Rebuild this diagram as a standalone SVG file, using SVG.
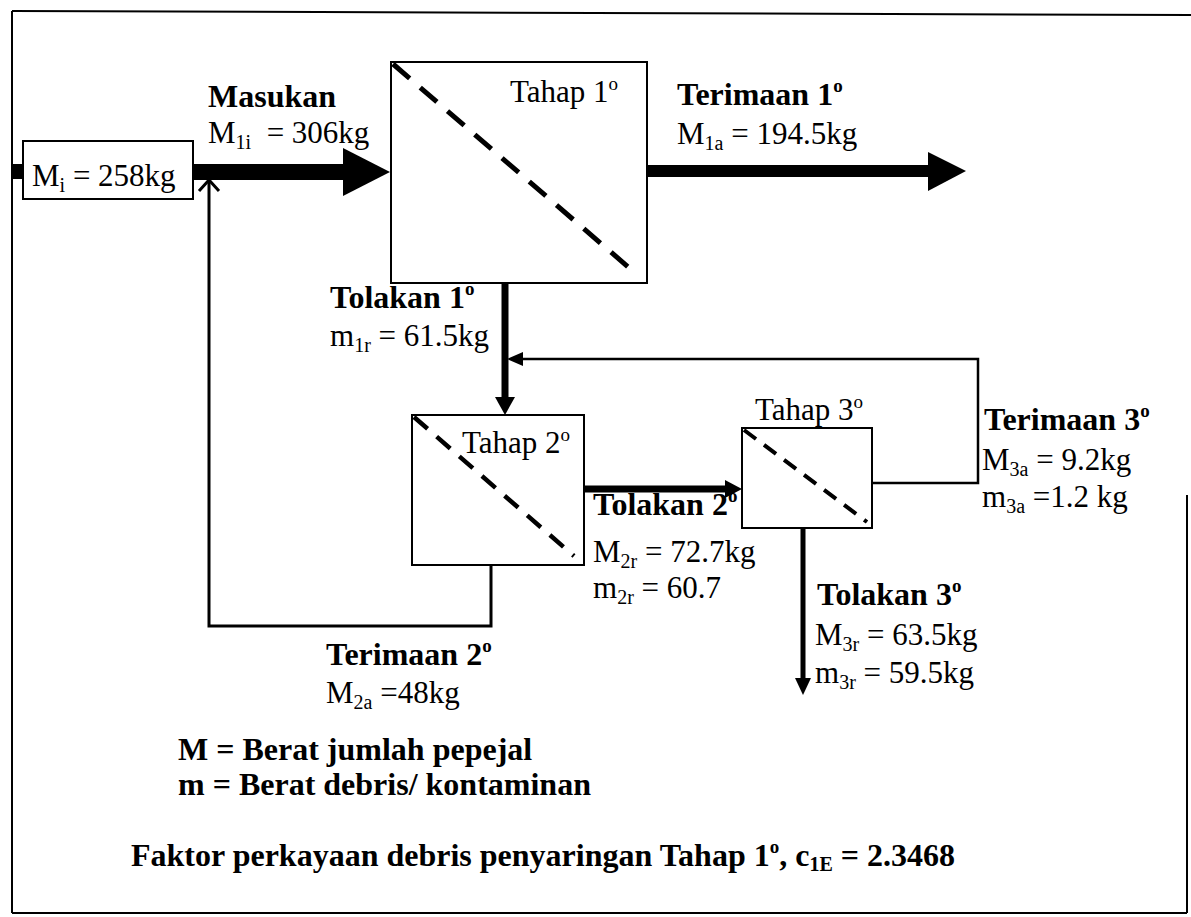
<svg xmlns="http://www.w3.org/2000/svg" width="1191" height="917" viewBox="0 0 1191 917">
<style>
.t{font-family:"Liberation Serif","Times New Roman",serif;font-size:31px;fill:#000}
.b{font-weight:bold;font-size:32px}
.sub{font-size:20px}
.sup{font-size:19px}
.box{fill:#fff;stroke:#000;stroke-width:2}
.dash{stroke:#000;fill:none}
.ln{stroke:#000;fill:none}
</style>
<rect width="1191" height="917" fill="#fff"/>
<g id="frame" class="ln" stroke-width="2">
<line x1="12" y1="11" x2="1191" y2="15"/>
<line x1="12" y1="11" x2="12" y2="913"/>
<line x1="12" y1="913" x2="1187" y2="913"/>
<line x1="1187" y1="495" x2="1187" y2="913"/>
</g>
<g id="connectors">
<rect x="12" y="164" width="12" height="15" fill="#000"/>
<rect x="193" y="164" width="152" height="16" fill="#000"/>
<polygon points="343,148 390,172 343,196" fill="#000"/>
<polyline class="ln" stroke-width="3" points="209,181 209,626 491,626 491,565"/>
<polyline class="ln" stroke-width="3" points="199,191 209,180 219,191"/>
<rect x="647" y="165" width="282" height="12" fill="#000"/>
<polygon points="928,152 966,171 928,191" fill="#000"/>
<line class="ln" stroke-width="7" x1="505" y1="283" x2="505" y2="400"/>
<polygon points="495,397 515,397 505,415" fill="#000"/>
<polyline class="ln" stroke-width="2.5" points="872,483 978,483 978,359 520,359"/>
<polygon points="507,359 523,352 523,366" fill="#000"/>
<line class="ln" stroke-width="7" x1="584" y1="489" x2="727" y2="489"/>
<polygon points="725,480 742,489 725,498" fill="#000"/>
<line class="ln" stroke-width="5" x1="803" y1="528" x2="803" y2="680"/>
<polygon points="795,678 811,678 803,695" fill="#000"/>
</g>
<g id="node-mi">
<rect class="box" x="23" y="141" width="170" height="58"/>
<text class="t" x="32" y="186">M<tspan class="sub" dy="6">i</tspan><tspan dy="-6"> = 258kg</tspan></text>
</g>
<g id="node-tahap1">
<rect class="box" x="391" y="62" width="256" height="221"/>
<line class="dash" stroke-width="5" stroke-dasharray="22 14" x1="393" y1="64" x2="634" y2="272"/>
<text class="t" x="510" y="102">Tahap 1<tspan class="sup" dy="-12">o</tspan></text>
</g>
<g id="node-tahap2">
<rect class="box" x="412" y="415" width="172" height="150"/>
<line class="dash" stroke-width="4.5" stroke-dasharray="18 12" x1="414" y1="417" x2="574" y2="556"/>
<text class="t" x="462" y="453">Tahap 2<tspan class="sup" dy="-12">o</tspan></text>
</g>
<g id="node-tahap3">
<rect class="box" x="742" y="428" width="130" height="100"/>
<line class="dash" stroke-width="4" stroke-dasharray="15 10" x1="744" y1="430" x2="867" y2="522"/>
<text class="t" x="755" y="420">Tahap 3<tspan class="sup" dy="-12">o</tspan></text>
</g>
<g id="labels">
<text class="t b" x="208" y="107">Masukan</text>
<text class="t" x="208" y="143" xml:space="preserve">M<tspan class="sub" dy="6">1i</tspan><tspan dy="-6">  = 306kg</tspan></text>
<text class="t b" x="677" y="105">Terimaan 1<tspan class="sup" dy="-13">o</tspan></text>
<text class="t" x="677" y="144">M<tspan class="sub" dy="6">1a</tspan><tspan dy="-6"> = 194.5kg</tspan></text>
<text class="t b" x="330" y="308">Tolakan 1<tspan class="sup" dy="-13">o</tspan></text>
<text class="t" x="330" y="346">m<tspan class="sub" dy="6">1r</tspan><tspan dy="-6"> = 61.5kg</tspan></text>
<text class="t b" x="593" y="515">Tolakan 2<tspan class="sup" dy="-13">o</tspan></text>
<text class="t" x="593" y="562">M<tspan class="sub" dy="6">2r</tspan><tspan dy="-6"> = 72.7kg</tspan></text>
<text class="t" x="593" y="598">m<tspan class="sub" dy="6">2r</tspan><tspan dy="-6"> = 60.7</tspan></text>
<text class="t b" x="817" y="605">Tolakan 3<tspan class="sup" dy="-13">o</tspan></text>
<text class="t" x="815" y="645">M<tspan class="sub" dy="6">3r</tspan><tspan dy="-6"> = 63.5kg</tspan></text>
<text class="t" x="815" y="683">m<tspan class="sub" dy="6">3r</tspan><tspan dy="-6"> = 59.5kg</tspan></text>
<text class="t b" x="984" y="430">Terimaan 3<tspan class="sup" dy="-13">o</tspan></text>
<text class="t" x="982" y="470">M<tspan class="sub" dy="6">3a</tspan><tspan dy="-6"> = 9.2kg</tspan></text>
<text class="t" x="982" y="507">m<tspan class="sub" dy="6">3a</tspan><tspan dy="-6"> =1.2 kg</tspan></text>
<text class="t b" x="326" y="665">Terimaan 2<tspan class="sup" dy="-13">o</tspan></text>
<text class="t" x="326" y="703">M<tspan class="sub" dy="6">2a</tspan><tspan dy="-6"> =48kg</tspan></text>
</g>
<g id="legend">
<text class="t b" x="178" y="760">M = Berat jumlah pepejal</text>
<text class="t b" x="178" y="795">m = Berat debris/ kontaminan</text>
<text class="t b" x="131" y="866">Faktor perkayaan debris penyaringan Tahap 1<tspan class="sup" dy="-13">o</tspan><tspan dy="13">, c</tspan><tspan class="sub" dy="5">1E</tspan><tspan dy="-5"> = 2.3468</tspan></text>
</g>
</svg>
